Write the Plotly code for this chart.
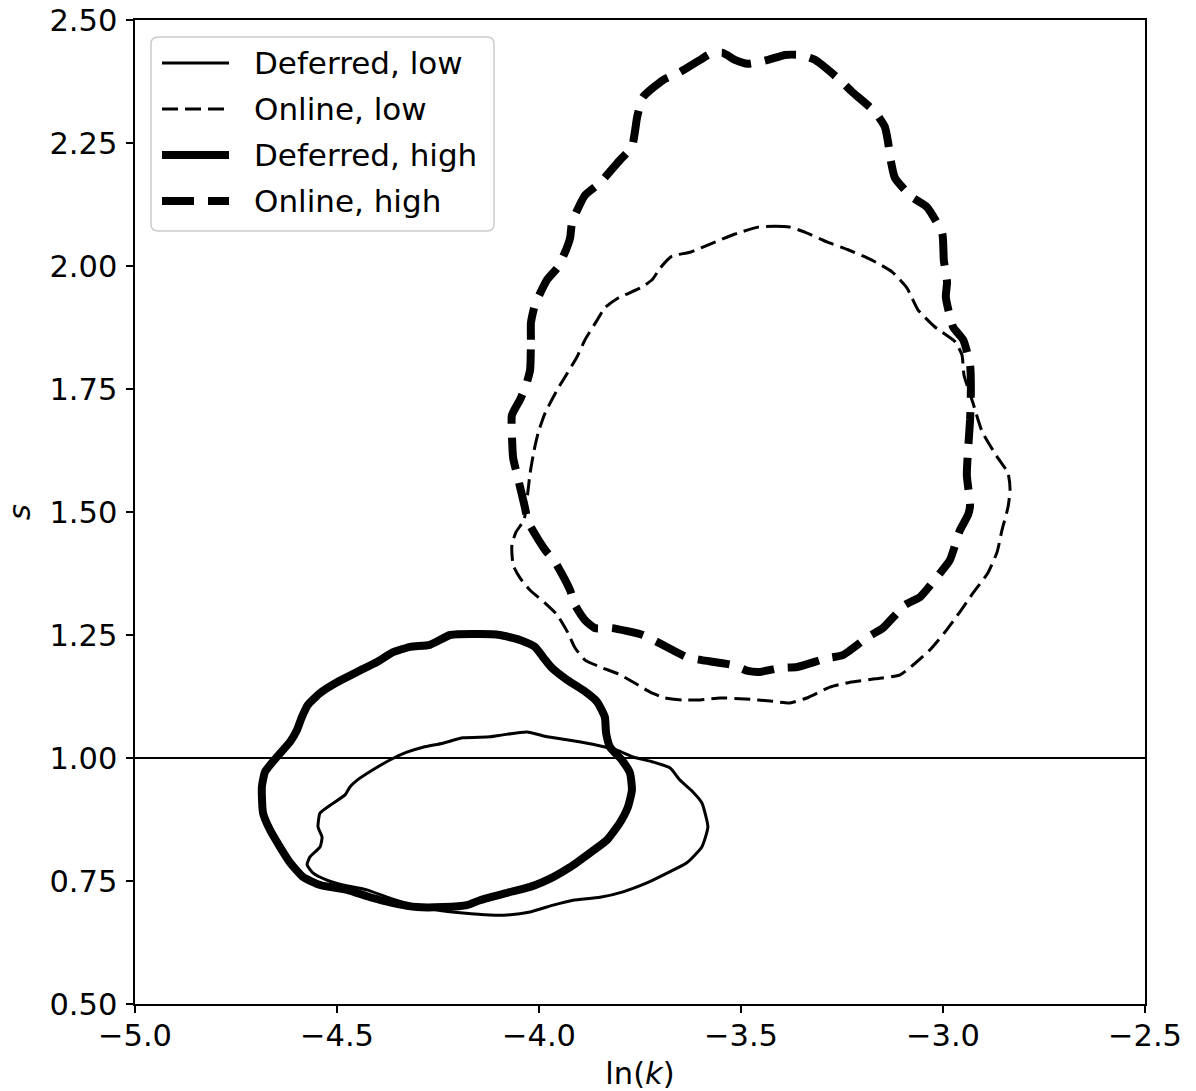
import plotly.graph_objects as go

# ---------------- data ----------------
deferred_low_x = [-4.030, -3.980, -3.916, -3.856, -3.807, -3.767, -3.718, -3.676, -3.651, -3.619,
                  -3.597, -3.582, -3.597, -3.634, -3.683, -3.733, -3.792, -3.849, -3.916, -3.965,
                  -4.022, -4.079, -4.121, -4.188, -4.252, -4.312, -4.369, -4.426, -4.485, -4.525,
                  -4.559, -4.574, -4.567, -4.542, -4.537, -4.547, -4.542, -4.517, -4.480, -4.468,
                  -4.450, -4.411, -4.369, -4.327, -4.287, -4.238, -4.188, -4.121, -4.089]
deferred_low_y = [1.053, 1.043, 1.035, 1.026, 1.016, 1.002, 0.992, 0.980, 0.955, 0.931,
                  0.909, 0.860, 0.819, 0.787, 0.766, 0.746, 0.728, 0.717, 0.711, 0.701,
                  0.687, 0.681, 0.681, 0.685, 0.691, 0.701, 0.715, 0.732, 0.742, 0.752,
                  0.766, 0.783, 0.799, 0.819, 0.839, 0.860, 0.888, 0.904, 0.925, 0.941,
                  0.955, 0.976, 0.996, 1.012, 1.022, 1.030, 1.041, 1.043, 1.047]

online_low_x = [-3.458, -3.416, -3.379, -3.342, -3.287, -3.235, -3.176, -3.126, -3.089, -3.062,
                -3.020, -2.970, -2.953, -2.948, -2.926, -2.903, -2.866, -2.839, -2.834, -2.839,
                -2.854, -2.866, -2.889, -2.926, -2.958, -2.995, -3.032, -3.074, -3.106, -3.168,
                -3.230, -3.280, -3.337, -3.379, -3.428, -3.490, -3.552, -3.601, -3.646, -3.688,
                -3.725, -3.762, -3.804, -3.849, -3.886, -3.911, -3.928, -3.955, -3.985, -4.022,
                -4.047, -4.064, -4.067, -4.057, -4.037, -4.030, -4.022, -4.012, -4.002, -3.985,
                -3.955, -3.936, -3.906, -3.886, -3.856, -3.837, -3.804, -3.750, -3.720, -3.700,
                -3.671, -3.626, -3.569, -3.515]
online_low_y = [2.079, 2.081, 2.079, 2.069, 2.049, 2.033, 2.012, 1.988, 1.955, 1.911,
                1.876, 1.846, 1.819, 1.778, 1.722, 1.663, 1.612, 1.579, 1.545, 1.510,
                1.463, 1.419, 1.376, 1.335, 1.297, 1.256, 1.220, 1.189, 1.169, 1.161,
                1.154, 1.144, 1.122, 1.112, 1.116, 1.120, 1.122, 1.118, 1.118, 1.122,
                1.134, 1.152, 1.171, 1.185, 1.199, 1.224, 1.254, 1.291, 1.315, 1.341,
                1.366, 1.392, 1.433, 1.459, 1.484, 1.524, 1.579, 1.626, 1.661, 1.701,
                1.748, 1.774, 1.815, 1.850, 1.890, 1.915, 1.935, 1.955, 1.972, 1.996,
                2.020, 2.028, 2.047, 2.065]

deferred_high_x = [-4.146, -4.097, -4.047, -4.010, -3.990, -3.968, -3.931, -3.891, -3.856, -3.837,
                   -3.834, -3.824, -3.795, -3.775, -3.770, -3.780, -3.800, -3.832, -3.874, -3.923,
                   -3.965, -4.022, -4.079, -4.146, -4.178, -4.238, -4.302, -4.361, -4.418, -4.475,
                   -4.542, -4.584, -4.616, -4.641, -4.666, -4.683, -4.686, -4.678, -4.649, -4.616,
                   -4.599, -4.587, -4.572, -4.542, -4.500, -4.450, -4.401, -4.361, -4.319, -4.270,
                   -4.220]
deferred_high_y = [1.252, 1.250, 1.240, 1.226, 1.205, 1.183, 1.159, 1.138, 1.114, 1.083,
                   1.051, 1.022, 0.996, 0.970, 0.935, 0.900, 0.868, 0.833, 0.807, 0.778,
                   0.758, 0.738, 0.726, 0.711, 0.701, 0.697, 0.697, 0.705, 0.717, 0.732,
                   0.742, 0.758, 0.787, 0.819, 0.854, 0.888, 0.941, 0.972, 1.002, 1.033,
                   1.057, 1.083, 1.108, 1.132, 1.154, 1.175, 1.195, 1.215, 1.226, 1.230,
                   1.250]

online_high_x = [-4.022, -4.020, -4.020, -4.010, -3.980, -3.953, -3.933, -3.923, -3.918, -3.886,
                 -3.849, -3.800, -3.770, -3.762, -3.757, -3.743, -3.693, -3.651, -3.601, -3.577,
                 -3.545, -3.515, -3.483, -3.433, -3.391, -3.354, -3.317, -3.255, -3.225, -3.168,
                 -3.144, -3.136, -3.131, -3.119, -3.077, -3.040, -3.002, -2.998, -2.990, -2.993,
                 -2.975, -2.950, -2.933, -2.931, -2.933, -2.938, -2.941, -2.933, -2.938, -2.958,
                 -2.983, -3.007, -3.057, -3.094, -3.149, -3.186, -3.248, -3.287, -3.361, -3.403,
                 -3.453, -3.483, -3.520, -3.597, -3.634, -3.671, -3.708, -3.743, -3.819, -3.861,
                 -3.886, -3.911, -3.923, -3.960, -3.985, -4.027, -4.035, -4.054, -4.064, -4.067,
                 -4.067, -4.047, -4.032]
online_high_y = [1.789, 1.850, 1.884, 1.921, 1.972, 1.998, 2.033, 2.057, 2.089, 2.144,
                 2.169, 2.215, 2.242, 2.276, 2.303, 2.343, 2.378, 2.394, 2.419, 2.431,
                 2.433, 2.419, 2.411, 2.419, 2.429, 2.429, 2.419, 2.378, 2.354, 2.313,
                 2.283, 2.252, 2.222, 2.179, 2.140, 2.120, 2.067, 2.012, 1.967, 1.937,
                 1.876, 1.850, 1.799, 1.748, 1.687, 1.626, 1.575, 1.514, 1.494, 1.463,
                 1.402, 1.376, 1.327, 1.311, 1.264, 1.246, 1.209, 1.203, 1.185, 1.183,
                 1.175, 1.177, 1.189, 1.199, 1.205, 1.220, 1.236, 1.250, 1.264, 1.264,
                 1.280, 1.311, 1.341, 1.398, 1.423, 1.480, 1.510, 1.575, 1.610, 1.657,
                 1.697, 1.728, 1.758]

series_names = ["Deferred, low", "Online, low", "Deferred, high", "Online, high"]
x_ticks = [-5.0, -4.5, -4.0, -3.5, -3.0, -2.5]
y_ticks = [0.50, 0.75, 1.00, 1.25, 1.50, 1.75, 2.00, 2.25, 2.50]
x_range = [-5.0, -2.5]
y_range = [0.5, 2.5]
ref_level = 1.0

# ---------------- styles ----------------
FONT = "DejaVu Sans"
FS = 30.5
LFS = 31
THIN, THICK = 3, 8
styles = [
    dict(width=THIN, dash="solid"),
    dict(width=THIN, dash="16px,7px"),
    dict(width=THICK, dash="solid"),
    dict(width=THICK, dash="32px,14px"),
]

def closed(a):
    return list(a) + [a[0]]

fig = go.Figure()
curves = [(deferred_low_x, deferred_low_y), (online_low_x, online_low_y),
          (deferred_high_x, deferred_high_y), (online_high_x, online_high_y)]
for (cx, cy), name, st in zip(curves, series_names, styles):
    fig.add_trace(go.Scatter(
        x=closed(cx), y=closed(cy), mode="lines", name=name, showlegend=False,
        line=dict(color="black", width=st["width"], dash=st["dash"], shape="spline", smoothing=0.5),
        hoverinfo="skip"))

# horizontal reference line
fig.add_shape(type="line", xref="x domain", yref="y", x0=0, x1=1, y0=ref_level, y1=ref_level,
              line=dict(color="black", width=1.8), layer="below")

# ---------------- geometry (body margin removed by post_script) ----------------
W, H = 1196, 1091
PL, PT, PW, PH = 135, 20, 1010, 984          # plot area in screen pixels
ML, MT = PL, PT
MR = W - ML - PW
MB = H - MT - PH

def px(xs):
    return (xs - PL) / PW

def py(ys):
    return 1 - (ys - PT) / PH

# ---------------- manual legend (matplotlib style) ----------------
bx0, bx1, by0, by1 = px(151), px(494), py(37), py(231)
rx, ry = 7 / PW, 7 / PH
path = (f"M {bx0+rx},{by0} L {bx1-rx},{by0} Q {bx1},{by0} {bx1},{by0-ry} "
        f"L {bx1},{by1+ry} Q {bx1},{by1} {bx1-rx},{by1} "
        f"L {bx0+rx},{by1} Q {bx0},{by1} {bx0},{by1+ry} "
        f"L {bx0},{by0-ry} Q {bx0},{by0} {bx0+rx},{by0} Z")
fig.add_shape(type="path", xref="paper", yref="paper", path=path,
              fillcolor="rgba(255,255,255,0.8)", line=dict(color="#cccccc", width=1.5), layer="above")

row_y = [63, 109, 155, 201]
for name, st, yy in zip(series_names, styles, row_y):
    fig.add_shape(type="line", xref="paper", yref="paper", x0=px(162), x1=px(229), y0=py(yy), y1=py(yy),
                  line=dict(color="black", width=st["width"], dash=st["dash"]), layer="above")
    fig.add_annotation(x=px(252), y=py(yy), xref="paper", yref="paper", text=name, showarrow=False,
                       xanchor="left", yanchor="middle", font=dict(family=FONT, size=LFS, color="black"))

axis_common = dict(showgrid=False, zeroline=False, showline=True, mirror=True,
                   linecolor="black", linewidth=1.6, ticks="outside", ticklen=7, tickwidth=1.6,
                   tickcolor="black", tickfont=dict(family=FONT, size=FS, color="black"),
                   ticklabeloverflow="allow")

fig.update_layout(
    width=W, height=H,
    margin=dict(l=ML, r=MR, t=MT, b=MB, autoexpand=False),
    paper_bgcolor="white", plot_bgcolor="white",
    font=dict(family=FONT, size=FS, color="black"),
    showlegend=False,
    xaxis=dict(range=x_range, tickvals=x_ticks, tickformat=".1f", ticklabelstandoff=-3,
               title=dict(text="ln(<i>k</i>)", standoff=12, font=dict(family=FONT, size=FS)),
               **axis_common),
    yaxis=dict(range=y_range, tickvals=y_ticks, tickformat=".2f", ticklabelstandoff=3,
               title=dict(text="<i>s</i>", standoff=10, font=dict(family=FONT, size=FS)),
               **axis_common),
)

fig.write_html("out.html", config={"displayModeBar": False, "staticPlot": True},
               post_script="document.body.style.margin='0px';document.body.style.overflow='hidden';")
